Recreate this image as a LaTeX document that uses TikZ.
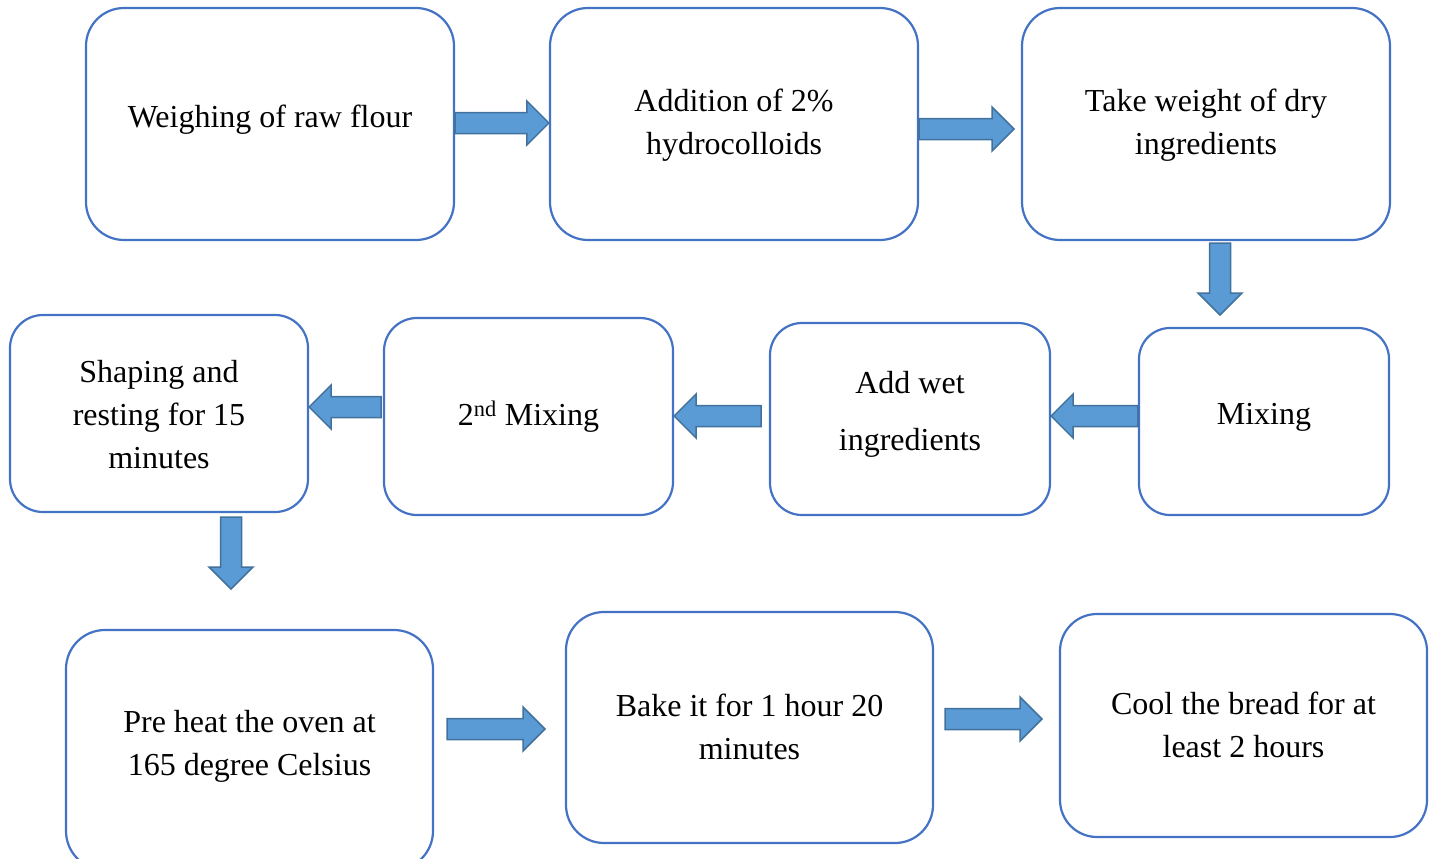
\documentclass[tikz,border=0pt]{standalone}
\usepackage{fontspec}
\setmainfont{Liberation Serif}
\usetikzlibrary{calc}
\definecolor{boxline}{HTML}{4472C4}
\definecolor{arrfill}{HTML}{5B9BD5}
\definecolor{arrline}{HTML}{41719C}
\tikzset{
  box/.style={draw=boxline, line width=2.2pt, fill=white, inner sep=0pt},
  txt/.style={align=center, font=\fontsize{32}{43}\selectfont, inner sep=0pt},
  blk/.style={fill=arrfill, draw=arrline, line width=1.5pt, line join=miter},
}
\newcommand\blkarrow[2]{%
  \path coordinate (hb) at ($(#2)!22pt!(#1)$);
  \draw[blk] ($(#1)!10.5pt!90:(#2)$) -- ($(hb)!10.5pt!90:(#2)$) -- ($(hb)!22pt!90:(#2)$)
    -- (#2) -- ($(hb)!22pt!-90:(#2)$) -- ($(hb)!10.5pt!-90:(#2)$) -- ($(#1)!10.5pt!-90:(#2)$) -- cycle;}
\begin{document}
\begin{tikzpicture}[x=1pt,y=-1pt]
\useasboundingbox (0,0) rectangle (1430,859);
% boxes
\node[box, minimum width=368, minimum height=232, rounded corners=38] (w) at (270,124) {};
\node[box, minimum width=368, minimum height=232, rounded corners=38] (add) at (734,124) {};
\node[box, minimum width=368, minimum height=232, rounded corners=38] (tw) at (1206,124) {};
\node[box, minimum width=250, minimum height=187, rounded corners=31] (mix) at (1264,421.5) {};
\node[box, minimum width=280, minimum height=192, rounded corners=32] (wet) at (910,419) {};
\node[box, minimum width=289, minimum height=197, rounded corners=33] (mix2) at (528.5,416.5) {};
\node[box, minimum width=298, minimum height=197, rounded corners=33] (shape) at (159,413.5) {};
\node[box, minimum width=367, minimum height=240, rounded corners=39] (pre) at (249.5,750) {};
\node[box, minimum width=367, minimum height=231, rounded corners=38] (bake) at (749.5,727.5) {};
\node[box, minimum width=367, minimum height=223, rounded corners=37] (cool) at (1243.5,725.5) {};
% texts
\node[txt] (w-t) at (270,120) {Weighing of raw flour};
\node[txt] (add-t) at (734,125.5) {Addition of 2\%\\hydrocolloids};
\node[txt] (tw-t) at (1206,125.5) {Take weight of dry\\ingredients};
\node[txt] (mix-t) at (1264,417) {Mixing};
\node[txt, font=\fontsize{32}{57}\selectfont] (wet-t) at (910,414) {Add wet\\ingredients};
\node[txt] (mix2-t) at (528.5,417) {2\textsuperscript{nd} Mixing};
\node[txt] (shape-t) at (159,414.5) {Shaping and\\resting for 15\\minutes};
\node[txt] (pre-t) at (249.5,746.5) {Pre heat the oven at\\165 degree Celsius};
\node[txt] (bake-t) at (749.5,726.5) {Bake it for 1 hour 20\\minutes};
\node[txt] (cool-t) at (1243.5,724.5) {Cool the bread for at\\least 2 hours};
% arrow end points
\coordinate (a1s) at (w.east |- 0,123);   \coordinate (a1e) at (add.west |- 0,123);
\coordinate (a2s) at (add.east |- 0,129); \coordinate (a2e) at (1014,129);
\coordinate (a3s) at (1220,243);          \coordinate (a3e) at (1220,315);
\coordinate (a4s) at (mix.west |- 0,416); \coordinate (a4e) at (wet.east |- 0,416);
\coordinate (a5s) at (761,416);           \coordinate (a5e) at (mix2.east |- 0,416);
\coordinate (a6s) at (381,407);           \coordinate (a6e) at (shape.east |- 0,407);
\coordinate (a7s) at (231,517);           \coordinate (a7e) at (231,589);
\coordinate (a8s) at (447,729);           \coordinate (a8e) at (545,729);
\coordinate (a9s) at (945,719);           \coordinate (a9e) at (1042,719);
\blkarrow{a1s}{a1e}
\blkarrow{a2s}{a2e}
\blkarrow{a3s}{a3e}
\blkarrow{a4s}{a4e}
\blkarrow{a5s}{a5e}
\blkarrow{a6s}{a6e}
\blkarrow{a7s}{a7e}
\blkarrow{a8s}{a8e}
\blkarrow{a9s}{a9e}
\end{tikzpicture}
\end{document}
